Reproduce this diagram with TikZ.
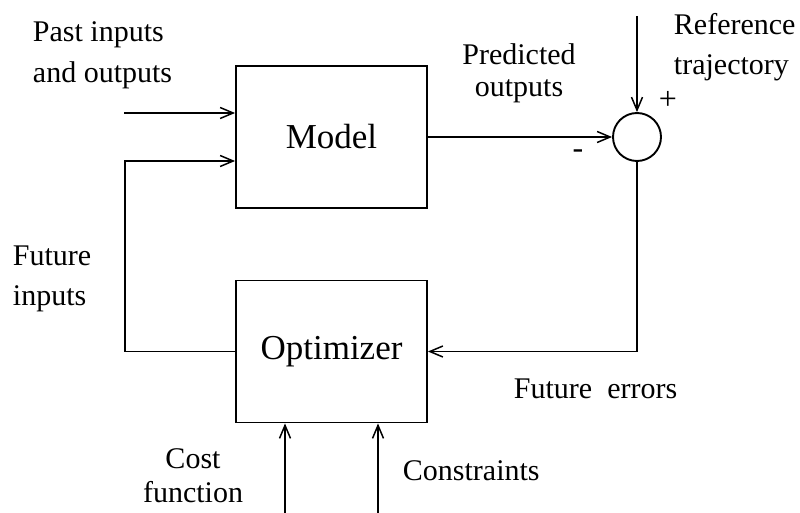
\documentclass[tikz,border=0pt]{standalone}
\usepackage{fontspec}
\setmainfont{Liberation Serif}
\usetikzlibrary{arrows.meta}
\begin{document}
\begin{tikzpicture}[x=1pt,y=-1pt,
  line width=1.9pt,
  >={Straight Barb[length=13pt,width=11pt,line width=1.5pt]},
  blockbox/.style={draw,rectangle,minimum width=191pt,minimum height=142pt,inner sep=0pt,font=\fontsize{35}{40}\selectfont},
  sumnode/.style={draw,circle,minimum size=48pt,inner sep=0pt},
  lbl/.style={inner sep=0pt,font=\fontsize{30}{41}\selectfont},
  sign/.style={inner sep=0pt,font=\fontsize{32}{34}\selectfont}]
\useasboundingbox (0,0) rectangle (800,513);
% blocks
\node[blockbox] (model) at (331.5,137) {Model};
\node[blockbox] (opt) at (331.5,351.5) {Optimizer};
\node[sumnode] (sum) at (637,137) {};
% free ends
\coordinate (pin) at (124,113);
\coordinate (fi) at (125,161);
\coordinate (ref) at (637,16);
\coordinate (cf) at (285,513);
\coordinate (cs) at (378,513);
% connectors
\draw[->] (pin) -- (pin -| model.west);
\draw[->] (opt.west) -| (fi) -- (fi -| model.west);
\draw[->] (model.east) -- (sum.west);
\draw[->] (ref) -- (sum.north);
\draw[->] (sum.south) |- (opt.east);
\draw[->] (cf) -- (cf |- opt.south);
\draw[->] (cs) -- (cs |- opt.south);
% labels (anchor = baseline of the last line)
\node[lbl,anchor=base west,align=left] (lpast) at (32,83) {Past inputs\\and outputs};
\node[lbl,anchor=base,align=center,font=\fontsize{30}{32}\selectfont] (lpred) at (519,97) {Predicted\\outputs};
\node[lbl,anchor=base west,align=left,font=\fontsize{30}{40}\selectfont] (lref) at (673,75) {Reference\\trajectory};
\node[lbl,anchor=base west,align=left,font=\fontsize{30}{40}\selectfont] (lfut) at (12,305) {Future\\inputs};
\node[lbl,anchor=base west] (lerr) at (513,398) {Future\ \ errors};
\node[lbl,anchor=base,align=center,font=\fontsize{30}{34}\selectfont] (lcost) at (193,502) {Cost\\function};
\node[lbl,anchor=base west] (lcons) at (402,480) {Constraints};
\node[sign] (plus) at (668,100) {+};
\node[sign] (minus) at (578,154) {-};
\end{tikzpicture}
\end{document}
